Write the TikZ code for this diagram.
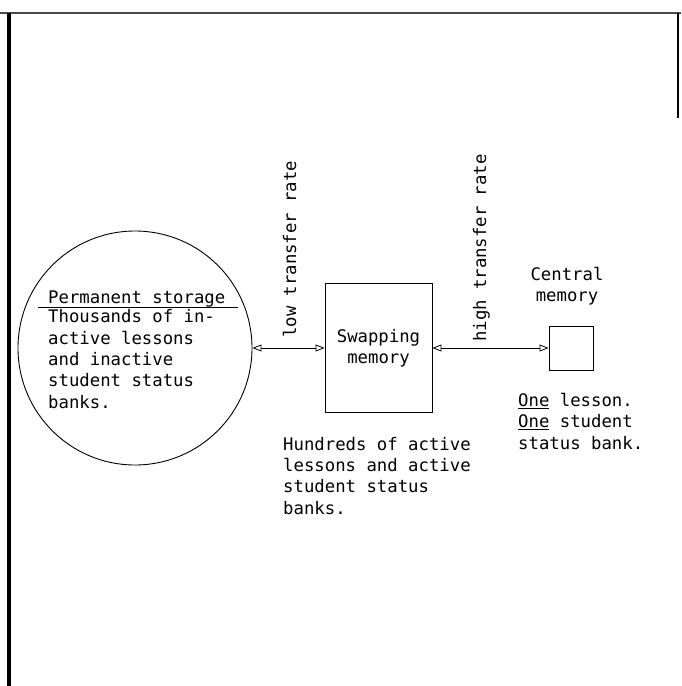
\documentclass[tikz,border=0pt]{standalone}
\usepackage{fontspec}
\usepackage{tikz}
\usetikzlibrary{arrows.meta}
\newfontfamily\plotfont{DejaVu Sans Mono}
\definecolor{scangray}{HTML}{4A4A4A}
\tikzset{
  link/.style={{Triangle[open,length=9pt,width=7pt]}-{Triangle[open,length=9pt,width=7pt]},line width=0.8pt},
  memorybox/.style={draw,line width=0.9pt,inner sep=0pt},
  plaintext/.style={align=left,inner sep=0pt}
}

\begin{document}
\begin{tikzpicture}[x=1pt,y=-1pt,font=\plotfont\fontsize{17.3}{21.3}\selectfont]
  \useasboundingbox (0,0) rectangle (681,686);
  \draw[line width=2pt,scangray] (0,13) -- (681,13);
  \draw[line width=4pt] (9,13) -- (9,686);
  \draw[line width=1.5pt] (678,13) -- (678,118);
  \node[draw,circle,line width=0.9pt,minimum size=234pt,inner sep=0pt] (perm) at (135,348) {};
  \node[plaintext,anchor=base west] (permtitle) at (48,303) {Permanent storage};
  \draw[line width=0.8pt] ([xshift=-10pt,yshift=-4pt]permtitle.base west) -- ([xshift=13pt,yshift=-4pt]permtitle.base east);
  % base of a multi-line node is its last line
  \node[plaintext,anchor=base west] (permtext) at (48,408) {Thousands of in-\\active lessons\\and inactive\\student status\\banks.};
  \node[memorybox,align=center,minimum width=107pt,minimum height=129pt] (swap) at (378.5,348) {Swapping\\memory};
  \node[plaintext,anchor=base west] (swaptext) at (283,514) {Hundreds of active\\lessons and active\\student status\\banks.};
  \node[memorybox,minimum size=44pt] (central) at (571,348) {};
  \node[align=center,inner sep=0pt] (centraltitle) at (567,286) {Central\\memory};
  \node[plaintext,anchor=base west] (centraltext) at (518,449) {\underline{One} lesson.\\\underline{One} student\\status bank.};
  \draw[link] (perm.east) -- (swap.west);
  \draw[link] (swap.east) -- (central.west);
  \node[inner sep=0pt,rotate=90,anchor=base west] (lowrate) at (296,338) {low transfer rate};
  \node[inner sep=0pt,rotate=90,anchor=base west] (highrate) at (486,342) {high transfer rate};
\end{tikzpicture}
\end{document}
